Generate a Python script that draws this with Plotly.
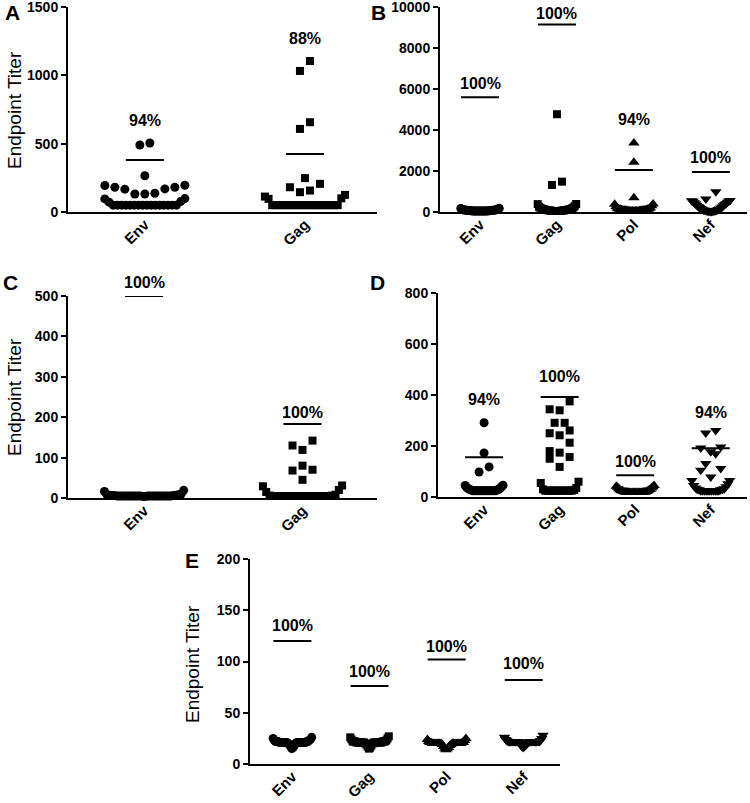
import plotly.graph_objects as go

W, H = 750, 803
FONT = "Liberation Sans"

# ---- data ----
A_cats = ["Env", "Gag"]
A_env = [505, 490, 265, 196, 194, 181, 181, 169, 167, 137, 132, 132, 98, 96, 76, 72,
         50, 50, 50, 50, 50, 50, 50, 50, 50, 50, 50, 50, 50, 50, 50, 50]
A_gag = [1105, 1032, 657, 608, 248, 206, 181, 157, 145, 125, 113, 100, 96,
         50, 50, 50, 50, 50, 50, 50, 50, 50, 50, 50, 50, 50, 50, 50, 50, 50, 50, 50]
A_cut = [380, 425]
A_pct = ["94%", "88%"]
A_pct_y = [673, 1266]

B_cats = ["Env", "Gag", "Pol", "Nef"]
B_env = [180, 170, 150, 140, 120, 110, 100, 100, 90, 90, 80, 80, 80, 70, 70, 70,
         60, 60, 60, 60, 50, 50, 50, 50, 50, 50, 50, 50, 50, 50, 50, 50]
B_gag = [4770, 1480, 1320, 390, 385, 300, 250, 220, 200, 180, 160, 150, 140, 130, 120, 110,
         100, 100, 90, 90, 80, 80, 70, 70, 60, 60, 50, 50, 50, 50, 50, 50]
B_pol = [3360, 2430, 700, 390, 380, 300, 250, 200, 180, 160, 150, 140, 130, 120, 110, 100,
         100, 90, 90, 80, 80, 70, 70, 60, 60, 50, 50, 50, 50, 50, 50, 50]
B_nef = [993, 640, 560, 550, 535, 520, 480, 455, 420, 390, 365, 330, 300, 270, 240, 220,
         190, 170, 150, 130, 120, 100, 90, 80, 70, 60, 50, 50, 40, 40, 30, 30]
B_cut = [5600, 9150, 2050, 1950]
B_pct = ["100%", "100%", "94%", "100%"]
B_pct_y = [6290, 9660, 4490, 2680]

C_cats = ["Env", "Gag"]
C_env = [19, 16, 10, 8, 8, 7, 7, 6, 6, 6, 5, 5, 5, 5, 5, 5,
         5, 5, 5, 5, 5, 5, 5, 5, 5, 5, 5, 5, 5, 5, 4, 4]
C_gag = [142, 130, 119, 80, 70, 68, 45, 31, 29, 20, 15, 8, 6, 6, 5, 5,
         5, 5, 5, 5, 5, 5, 5, 5, 5, 5, 5, 5, 5, 5, 5, 5]
C_cut = [500, 183]
C_pct = ["100%", "100%"]
C_pct_y = [534, 212]

D_cats = ["Env", "Gag", "Pol", "Nef"]
D_env = [291, 173, 118, 98, 46, 45, 40, 38, 35, 33, 30, 30, 28, 28, 25, 25,
         25, 25, 25, 25, 25, 25, 25, 25, 25, 25, 25, 25, 25, 25, 25, 25]
D_gag = [375, 344, 340, 291, 291, 261, 250, 242, 213, 180, 174, 157, 150, 118, 60, 55,
         35, 30, 28, 25, 25, 25, 25, 25, 25, 25, 25, 25, 25, 25, 25, 25]
D_pol = [45, 42, 40, 38, 35, 32, 30, 28, 28, 25, 25, 25, 22, 22, 20, 20,
         20, 20, 20, 20, 18, 18, 18, 18, 18, 18, 18, 18, 18, 18, 18, 18]
D_nef = [261, 251, 196, 192, 177, 170, 131, 112, 105, 78, 65, 65, 52, 45, 40, 35,
         32, 30, 30, 28, 28, 25, 25, 25, 25, 25, 25, 25, 25, 25, 25, 25]
D_cut = [156, 392, 85, 191]
D_pct = ["94%", "100%", "100%", "94%"]
D_pct_y = [383, 473, 141, 331]

E_cats = ["Env", "Gag", "Pol", "Nef"]
E_env = [26, 25, 24, 23, 23, 22, 22, 22, 22, 22, 21, 21, 21, 21, 21, 21,
         21, 21, 21, 21, 21, 21, 21, 21, 21, 20, 20, 19, 18, 17, 16, 15]
E_gag = [27, 26, 25, 24, 23, 22, 22, 22, 22, 22, 22, 21, 21, 21, 21, 21,
         21, 21, 21, 21, 21, 21, 21, 21, 21, 20, 20, 19, 18, 17, 16, 15]
E_pol = [25, 24, 23, 22, 21, 21, 21, 21, 20, 20, 20, 20, 20, 20, 20, 20,
         20, 20, 20, 20, 20, 20, 20, 20, 19, 19, 18, 17, 16, 15, 15, 14]
E_nef = [28, 26, 25, 24, 23, 23, 22, 22, 22, 22, 22, 22, 22, 22, 22, 22,
         22, 22, 22, 22, 22, 22, 22, 22, 21, 21, 20, 19, 18, 17, 17, 16]
E_cut = [120, 76, 102, 82]
E_pct = ["100%", "100%", "100%", "100%"]
E_pct_y = [135, 90, 115, 98]


def swarm(vals, tol, step, span):
    # column scatter: values within tol share a row, lowest in the middle
    vals = sorted(vals)
    xs, ys = [], []
    i = 0
    while i < len(vals):
        j = i
        while j < len(vals) and vals[j] - vals[i] <= tol:
            j += 1
        grp = vals[i:j]
        n = len(grp)
        d = step if n < 2 else min(step, span / (n - 1))
        slots = sorted(range(n), key=lambda k: (abs(k - (n - 1) / 2), k))
        for v, k in zip(grp, slots):
            xs.append((k - (n - 1) / 2) * d)
            ys.append(v)
        i = j
    return xs, ys


panels = [
    dict(letter="A", cats=A_cats, vals=[A_env, A_gag], cut=A_cut, pct=A_pct, pct_y=A_pct_y,
         ymax=1500, dtick=500, box=(68, 377, 7, 212), xr=(-0.48, 1.45), tol=80,
         lpos=(12, 13), tpos=(14, 110)),
    dict(letter="B", cats=B_cats, vals=[B_env, B_gag, B_pol, B_nef], cut=B_cut, pct=B_pct,
         pct_y=B_pct_y, ymax=10000, dtick=2000, box=(440, 747, 7, 212), xr=(-0.52, 3.47),
         tol=540, lpos=(378, 13), tpos=None),
    dict(letter="C", cats=C_cats, vals=[C_env, C_gag], cut=C_cut, pct=C_pct, pct_y=C_pct_y,
         ymax=500, dtick=100, box=(68, 377, 296, 498), xr=(-0.48, 1.47), tol=27,
         lpos=(10, 282), tpos=(14, 397)),
    dict(letter="D", cats=D_cats, vals=[D_env, D_gag, D_pol, D_nef], cut=D_cut, pct=D_pct,
         pct_y=D_pct_y, ymax=800, dtick=200, box=(438, 747, 293, 497), xr=(-0.61, 3.48),
         tol=43, lpos=(377, 282), tpos=None),
    dict(letter="E", cats=E_cats, vals=[E_env, E_gag, E_pol, E_nef], cut=E_cut, pct=E_pct,
         pct_y=E_pct_y, ymax=200, dtick=50, box=(250, 560, 559, 764), xr=(-0.55, 3.47),
         tol=12, lpos=(192, 560), tpos=(192, 664)),
]

symbols = ["circle", "square", "triangle-up", "triangle-down"]
msizes = [9, 8, 10, 10]

fig = go.Figure()
for k, p in enumerate(panels):
    sfx = "" if k == 0 else str(k + 1)
    xa, ya = "x" + sfx, "y" + sfx
    x0, x1, y0, y1 = p["box"]
    pxcat = (x1 - x0) / (p["xr"][1] - p["xr"][0])
    step = 10 / pxcat
    hw = 19 / pxcat
    for i, v in enumerate(p["vals"]):
        xs, ys = swarm(v, p["tol"], step, 0.5)
        fig.add_trace(go.Scatter(
            x=[i + o for o in xs], y=ys, mode="markers", xaxis=xa, yaxis=ya,
            marker=dict(symbol=symbols[i], size=msizes[i], color="black", line=dict(width=0)),
            cliponaxis=False, showlegend=False, hoverinfo="skip"))
        fig.add_trace(go.Scatter(
            x=[i - hw, i + hw], y=[p["cut"][i], p["cut"][i]], mode="lines",
            xaxis=xa, yaxis=ya, line=dict(color="black", width=2),
            cliponaxis=False, showlegend=False, hoverinfo="skip"))
        # label sits in axis-domain units so it can go above the top tick
        fig.add_annotation(x=i, y=p["pct_y"][i] / p["ymax"], xref=xa, yref=ya + " domain",
                           text=p["pct"][i], showarrow=False, yanchor="middle",
                           font=dict(family=FONT, size=16, color="black", weight="bold"))

    fig.update_layout({
        "xaxis" + sfx: dict(
            domain=[x0 / W, x1 / W], anchor=ya, range=list(p["xr"]), automargin=False,
            ticklabeloverflow="allow", ticklabelstandoff=-4,
            tickvals=list(range(len(p["cats"]))), ticktext=p["cats"], tickangle=-45,
            ticks="", showline=True, linecolor="black", linewidth=2,
            showgrid=False, zeroline=False,
            tickfont=dict(family=FONT, size=15, color="black", weight="bold")),
        "yaxis" + sfx: dict(
            domain=[1 - y1 / H, 1 - y0 / H], anchor=xa, range=[0, p["ymax"]], automargin=False,
            ticklabeloverflow="allow",
            dtick=p["dtick"], tick0=0, tickformat="d", ticks="outside", ticklen=5,
            tickwidth=2, tickcolor="black", showline=True, linecolor="black", linewidth=2,
            showgrid=False, zeroline=False,
            tickfont=dict(family=FONT, size=14, color="black", weight="bold")),
    })

    lx, ly = p["lpos"]
    fig.add_annotation(x=lx / W, y=1 - ly / H, xref="paper", yref="paper", text=p["letter"],
                       showarrow=False, xanchor="center", yanchor="middle",
                       font=dict(family=FONT, size=21, color="black", weight="bold"))
    if p["tpos"]:
        tx, ty = p["tpos"]
        fig.add_annotation(x=tx / W, y=1 - ty / H, xref="paper", yref="paper",
                           text="Endpoint Titer", textangle=-90, showarrow=False,
                           xanchor="center", yanchor="middle",
                           font=dict(family=FONT, size=19, color="black"))

fig.update_layout(width=W, height=H, margin=dict(l=0, r=0, t=0, b=0),
                  paper_bgcolor="white", plot_bgcolor="white", showlegend=False)
# page body has a default 8px margin; drop it so the figure fills the window
fig.write_html("out.html", config={"displayModeBar": False},
               post_script="document.body.style.margin='0px';")
